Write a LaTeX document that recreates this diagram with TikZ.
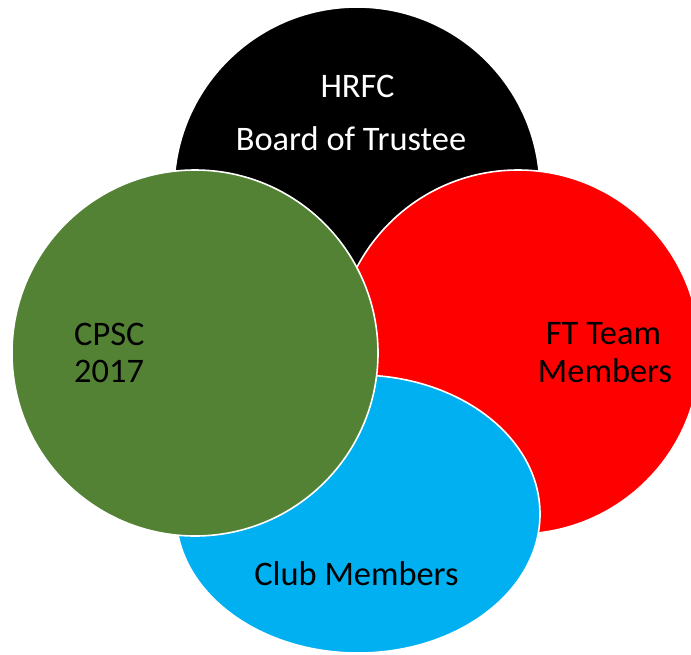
\documentclass[tikz,border=0pt]{standalone}
\usepackage{fontspec}
\setmainfont{Carlito}
\definecolor{vgreen}{HTML}{548235}
\definecolor{vred}{HTML}{FF0000}
\definecolor{vblue}{HTML}{00B0F0}
\begin{document}
\begin{tikzpicture}[x=1pt,y=-1pt,
  set/.style={draw=white,line width=1.6pt},
  lbl/.style={inner sep=0pt,font=\fontsize{34.4}{38}\selectfont}]
\useasboundingbox (0,0) rectangle (691,654);
\clip (0,0) rectangle (691,654);
\fill[white] (0,0) rectangle (691,654);
\path[set,fill=black] (357,190) circle[radius=183pt];
\path[set,fill=vred] (518,352) circle[radius=182pt];
\path[set,fill=vblue] (358,514) ellipse[x radius=182pt,y radius=139pt];
\path[set,fill=vgreen] (195,353) circle[radius=183pt];
\node[lbl,text=white,anchor=base] (hrfc) at (357.5,97) {HRFC};
\node[lbl,text=white,anchor=base] (board) at (351,150) {Board of Trustee};
\node[lbl,anchor=base west] (cpsc) at (74,345) {CPSC};
\node[lbl,anchor=base west] (year) at (74,382) {2017};
\node[lbl,anchor=base] (ft) at (603.5,344) {FT Team};
\node[lbl,anchor=base] (mem) at (605,382) {Members};
\node[lbl,anchor=base] (club) at (356.5,585) {Club Members};
\end{tikzpicture}
\end{document}
